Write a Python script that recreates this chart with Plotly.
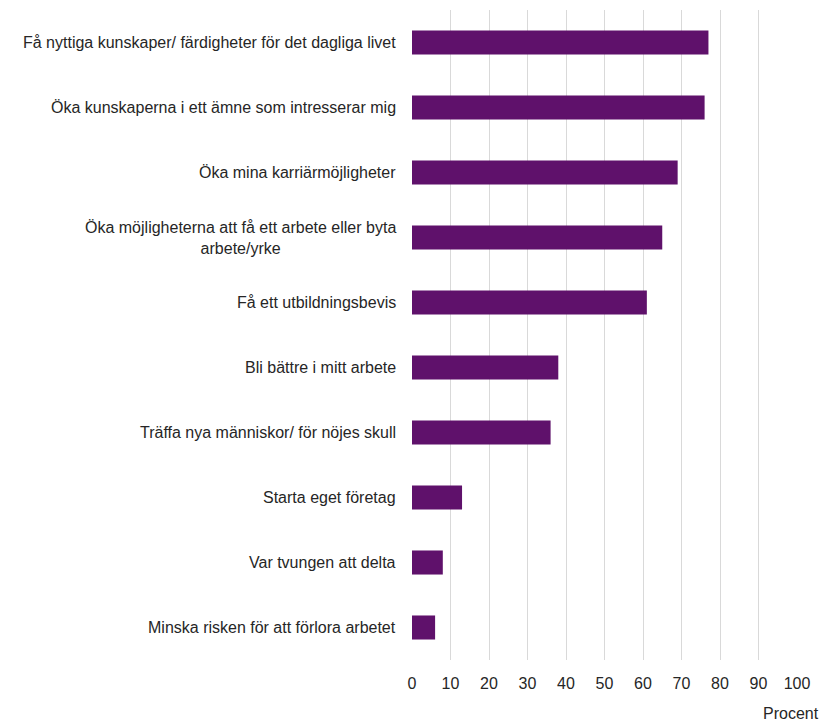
import plotly.graph_objects as go

categories = [
    "Få nyttiga kunskaper/ färdigheter för det dagliga livet",
    "Öka kunskaperna i ett ämne som intresserar mig",
    "Öka mina karriärmöjligheter",
    "Öka möjligheterna att få ett arbete eller byta<br>arbete/yrke",
    "Få ett utbildningsbevis",
    "Bli bättre i mitt arbete",
    "Träffa nya människor/ för nöjes skull",
    "Starta eget företag",
    "Var tvungen att delta",
    "Minska risken för att förlora arbetet",
]
values = [77, 76, 69, 65, 61, 38, 36, 13, 8, 6]
x_ticks = [0, 10, 20, 30, 40, 50, 60, 70, 80, 90, 100]

FONT = "Liberation Sans"
COLOR = "#5F116B"
TXT = "#262626"

fig = go.Figure()
fig.add_trace(go.Bar(
    y=categories,
    x=values,
    orientation="h",
    width=0.37,
    marker=dict(color=COLOR, line=dict(width=0)),
    hoverinfo="x+y",
))

annotations = []
for c in categories:
    annotations.append(dict(
        x=0, xref="paper", xanchor="right", xshift=-14,
        y=c, yref="y", yanchor="middle",
        text=c, showarrow=False, align="center",
        font=dict(family=FONT, size=16, color=TXT),
    ))
annotations.append(dict(
    x=1, xref="paper", xanchor="right", xshift=24,
    y=0, yref="paper", yanchor="top", yshift=-43,
    text="Procent", showarrow=False,
    font=dict(family=FONT, size=16, color=TXT),
))

fig.update_layout(
    width=828, height=722,
    margin=dict(l=412, r=31, t=10, b=62),
    plot_bgcolor="white", paper_bgcolor="white",
    showlegend=False,
    annotations=annotations,
    xaxis=dict(
        range=[0, 100], tickvals=x_ticks,
        showgrid=True, gridcolor="#D9D9D9", gridwidth=1,
        zeroline=False, showline=False, ticks="",
        ticklabelstandoff=12,
        tickfont=dict(family=FONT, size=16, color=TXT),
        fixedrange=True,
    ),
    yaxis=dict(
        categoryorder="array", categoryarray=categories,
        autorange="reversed",
        showticklabels=False, showgrid=False, zeroline=False,
        showline=False, ticks="",
        fixedrange=True,
    ),
)

fig.write_html(
    "out.html",
    config={"displayModeBar": False},
    post_script="document.body.style.margin='0';document.body.style.overflow='hidden';",
)
